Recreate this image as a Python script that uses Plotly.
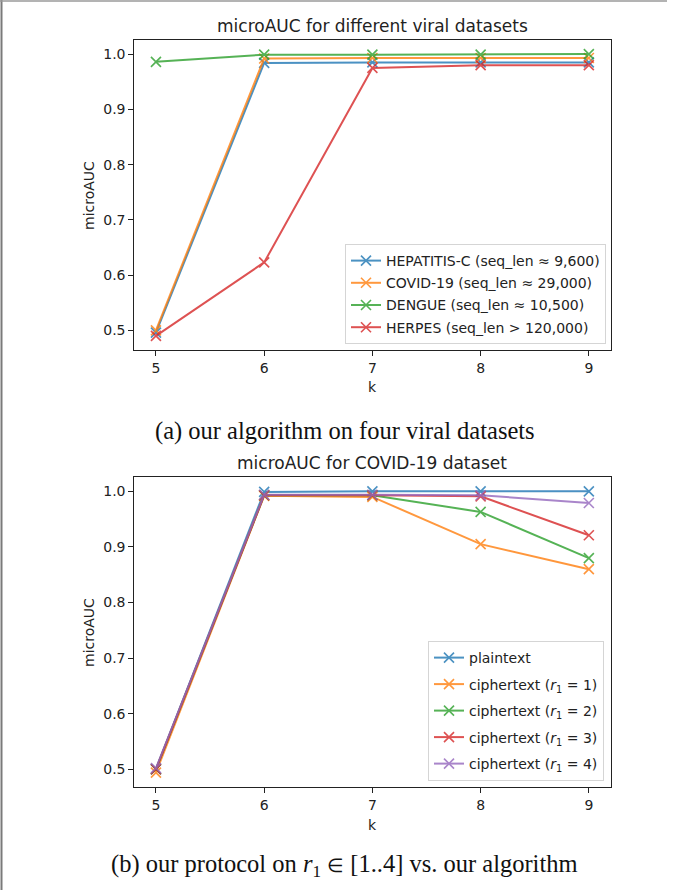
import plotly.graph_objects as go

# ---------------- data ----------------
k_values = [5, 6, 7, 8, 9]

# panel (a)
hepatitis_c = [0.496, 0.984, 0.985, 0.985, 0.985]
covid_19 = [0.500, 0.992, 0.993, 0.993, 0.993]
dengue = [0.986, 0.999, 0.999, 0.999, 1.000]
herpes = [0.490, 0.623, 0.975, 0.980, 0.980]
labels_a = [
    "HEPATITIS-C (seq_len ≈ 9,600)",
    "COVID-19 (seq_len ≈ 29,000)",
    "DENGUE (seq_len ≈ 10,500)",
    "HERPES (seq_len > 120,000)",
]

# panel (b)
plaintext = [0.500, 0.999, 1.000, 1.000, 1.000]
cipher_r1_1 = [0.494, 0.992, 0.990, 0.905, 0.860]
cipher_r1_2 = [0.500, 0.993, 0.993, 0.963, 0.880]
cipher_r1_3 = [0.500, 0.993, 0.993, 0.991, 0.921]
cipher_r1_4 = [0.502, 0.994, 0.994, 0.993, 0.979]
labels_b = [
    "plaintext",
    "ciphertext (<i>r</i><sub>1</sub> = 1)",
    "ciphertext (<i>r</i><sub>1</sub> = 2)",
    "ciphertext (<i>r</i><sub>1</sub> = 3)",
    "ciphertext (<i>r</i><sub>1</sub> = 4)",
]

x_ticks = [5, 6, 7, 8, 9]
y_ticks = [0.5, 0.6, 0.7, 0.8, 0.9, 1.0]
y_tick_text = ["0.5", "0.6", "0.7", "0.8", "0.9", "1.0"]

title_a = "microAUC for different viral datasets"
title_b = "microAUC for COVID-19 dataset"
caption_a = "(a) our algorithm on four viral datasets"
caption_b = ("(b) our protocol on <i>r</i><sub>1</sub> "
             "<span style=\"font-size:19px\">∈</span> [1..4] vs. our algorithm")

# ---------------- styling ----------------
W, H = 681, 890
colors = ["#1f77b4", "#ff7f0e", "#2ca02c", "#d62728", "#9467bd"]
FONT = "DejaVu Sans"
FS = 14


def px_x(x):
    return x / W


def px_y(y):
    return 1 - y / H


fig = go.Figure()

series_a = [hepatitis_c, covid_19, dengue, herpes]
for i, (vals, lab) in enumerate(zip(series_a, labels_a)):
    fig.add_trace(go.Scatter(
        x=k_values, y=vals, name=lab, mode="lines+markers",
        line=dict(color=colors[i], width=2),
        marker=dict(symbol="x-thin", size=10, line=dict(width=1.6, color=colors[i]), color=colors[i]),
        opacity=0.8, xaxis="x", yaxis="y", legend="legend", legendgroup="a%d" % i,
    ))

series_b = [plaintext, cipher_r1_1, cipher_r1_2, cipher_r1_3, cipher_r1_4]
for i, (vals, lab) in enumerate(zip(series_b, labels_b)):
    fig.add_trace(go.Scatter(
        x=k_values, y=vals, name=lab, mode="lines+markers",
        line=dict(color=colors[i], width=2),
        marker=dict(symbol="x-thin", size=10, line=dict(width=1.6, color=colors[i]), color=colors[i]),
        opacity=0.8, xaxis="x2", yaxis="y2", legend="legend2", legendgroup="b%d" % i,
    ))

axis_common = dict(
    showline=True, linecolor="#222", linewidth=1, mirror=True,
    ticks="outside", ticklen=5, tickcolor="#222", tickwidth=1,
    showgrid=False, zeroline=False, automargin=False,
    tickfont=dict(family=FONT, size=FS, color="#222"),
)

xdom = [px_x(134.3), px_x(610.5)]
fig.update_layout(
    width=W, height=H,
    margin=dict(l=0, r=0, t=0, b=0),
    paper_bgcolor="white", plot_bgcolor="white",
    font=dict(family=FONT, size=FS, color="#222"),
    xaxis=dict(domain=xdom, range=[4.8, 9.2], tickvals=x_ticks, anchor="y", **axis_common),
    yaxis=dict(domain=[px_y(350), px_y(40)], range=[0.4645, 1.0255], tickvals=y_ticks,
               ticktext=y_tick_text, anchor="x", **axis_common),
    xaxis2=dict(domain=xdom, range=[4.8, 9.2], tickvals=x_ticks, anchor="y2", **axis_common),
    yaxis2=dict(domain=[px_y(786.7), px_y(477.3)], range=[0.4687, 1.0253], tickvals=y_ticks,
                ticktext=y_tick_text, anchor="x2", **axis_common),
    legend=dict(
        x=px_x(606), y=px_y(344), xanchor="right", yanchor="bottom",
        bgcolor="white", bordercolor="#d5d5d5", borderwidth=1,
        font=dict(family=FONT, size=FS, color="#222"), tracegroupgap=1,
        itemwidth=30,
    ),
    legend2=dict(
        x=px_x(604), y=px_y(781), xanchor="right", yanchor="bottom",
        bgcolor="white", bordercolor="#d5d5d5", borderwidth=1,
        font=dict(family=FONT, size=FS, color="#222"), tracegroupgap=5.3,
        itemwidth=30,
    ),
    showlegend=True,
)

ann = []
xc = (134.3 + 610.5) / 2
# titles
ann.append(dict(text=title_a, x=px_x(xc), y=px_y(26), xref="paper", yref="paper",
                xanchor="center", yanchor="middle", showarrow=False,
                font=dict(family=FONT, size=17, color="#222")))
ann.append(dict(text=title_b, x=px_x(xc), y=px_y(463), xref="paper", yref="paper",
                xanchor="center", yanchor="middle", showarrow=False,
                font=dict(family=FONT, size=17, color="#222")))
# axis labels
for yc in (387, 825):
    ann.append(dict(text="k", x=px_x(xc), y=px_y(yc), xref="paper", yref="paper",
                    xanchor="center", yanchor="middle", showarrow=False,
                    font=dict(family=FONT, size=FS, color="#222")))
for yc in ((40 + 350) / 2, (477.3 + 786.7) / 2):
    ann.append(dict(text="microAUC", x=px_x(89), y=px_y(yc), xref="paper", yref="paper",
                    xanchor="center", yanchor="middle", showarrow=False, textangle=-90,
                    font=dict(family=FONT, size=FS, color="#222")))
# captions
ann.append(dict(text=caption_a, x=px_x(344.5), y=px_y(431), xref="paper", yref="paper",
                xanchor="center", yanchor="middle", showarrow=False,
                font=dict(family="Liberation Serif", size=24.5, color="#111")))
ann.append(dict(text=caption_b, x=px_x(344), y=px_y(865), xref="paper", yref="paper",
                xanchor="center", yanchor="middle", showarrow=False,
                font=dict(family="Liberation Serif", size=24.5, color="#111")))
fig.update_layout(annotations=ann)

# page frame lines (left and top)
fig.update_layout(shapes=[
    dict(type="line", xref="paper", yref="paper", x0=px_x(1.5), x1=px_x(1.5), y0=0, y1=1,
         line=dict(color="#7a7a7a", width=2)),
    dict(type="line", xref="paper", yref="paper", x0=0, x1=px_x(667), y0=px_y(1), y1=px_y(1),
         line=dict(color="#9a9a9a", width=1.5)),
])

fig.write_html("out.html",
               config={"displayModeBar": False},
               post_script="document.body.style.margin='0px';document.body.style.overflow='hidden';")
